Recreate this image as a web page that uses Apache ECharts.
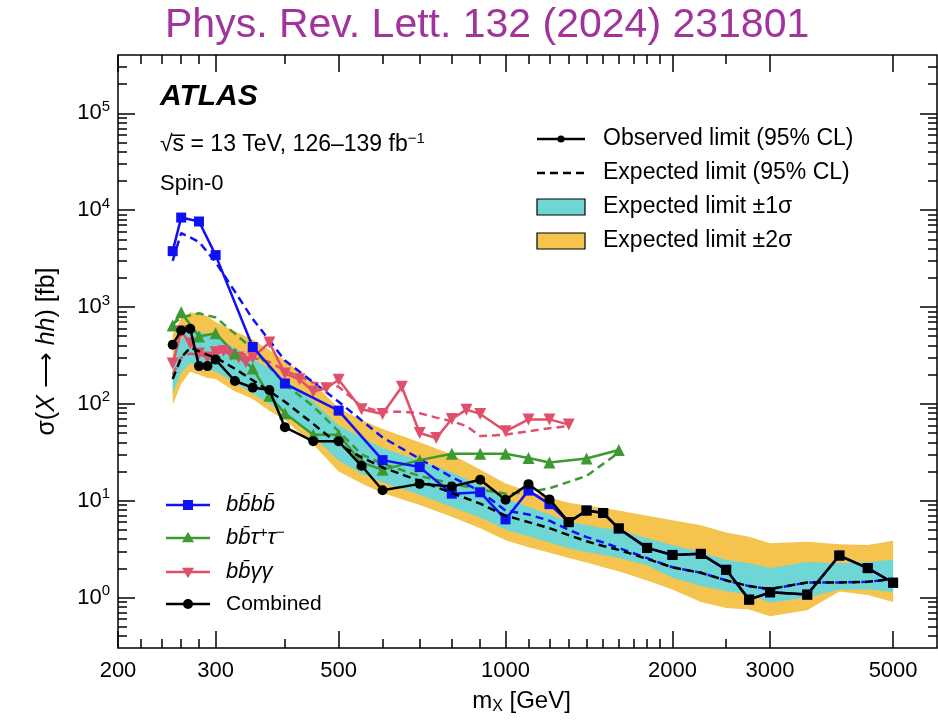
<!DOCTYPE html>
<html>
<head>
<meta charset="utf-8">
<script src="https://cdn.jsdelivr.net/npm/echarts@6/dist/echarts.min.js"></script>
<style>
  html, body { margin: 0; padding: 0; background: #ffffff; }
  #chart { width: 938px; height: 720px; }
</style>
</head>
<body>
<div id="chart"></div>
<script>
const FONT = '"Liberation Sans", Arial, Helvetica, sans-serif';

// ---- Axis ranges and tick values ----
const X_MIN = 200, X_MAX = 6000;
const Y_MIN = 0.3, Y_MAX = 4e5;
const xMajorTicks = [200, 300, 500, 1000, 2000, 3000, 5000];
const xMinorTicks = [220, 240, 260, 280, 400, 600, 700, 800, 900, 1100, 1200, 1300, 1400, 1500, 1600, 1700, 1800, 1900, 2500];
const yMajorTicks = [1, 10, 100, 1000, 10000, 100000];
const yMinorTicks = [0.4, 0.5, 0.6, 0.7, 0.8, 0.9,
  2, 3, 4, 5, 6, 7, 8, 9,
  20, 30, 40, 50, 60, 70, 80, 90,
  200, 300, 400, 500, 600, 700, 800, 900,
  2000, 3000, 4000, 5000, 6000, 7000, 8000, 9000,
  20000, 30000, 40000, 50000, 60000, 70000, 80000, 90000,
  200000, 300000];

// ---- bbbb channel: resonance mass [GeV], observed / expected limits [fb] ----
const mass4b = [251, 260, 280, 300, 350, 400, 500, 600, 700, 800, 900, 1000, 1100, 1200, 1300, 1400, 1500, 1600, 1800, 2000, 2250, 2500, 2750, 3000, 3500, 4000, 4500, 5000];
const obs4b  = [3770, 8380, 7630, 3430, 386, 162, 85, 26.2, 22.2, 11.8, 12.2, 6.4, 12.7, 9.2, 6.0, 7.9, 7.45, 5.16, 3.25, 2.75, 2.82, 1.93, 0.95, 1.13, 1.07, 2.71, 2.01, 1.42];
const exp4b  = [3000, 5800, 4700, 2900, 750, 280, 105, 45, 27, 17.5, 12.5, 7.9, 7.2, 6.2, 5.0, 4.2, 3.7, 3.25, 2.55, 2.05, 1.8, 1.5, 1.31, 1.22, 1.43, 1.43, 1.45, 1.55];

// ---- bbtautau channel ----
const massTT = [251, 260, 280, 300, 325, 350, 375, 400, 450, 500, 550, 600, 700, 800, 900, 1000, 1100, 1200, 1400, 1600];
const obsTT  = [644, 880, 495, 535, 330, 232, 121, 80, 48, 48, 24.8, 20.8, 26.2, 30.5, 30.5, 30.5, 27.6, 24.8, 27.2, 33.4];
const expTT  = [660, 780, 860, 780, 530, 370, 240, 160, 94, 52, 30, 24, 18, 15, 13, 11.8, 12.2, 13.4, 18, 31.3];

// ---- bbyy channel ----
const massYY = [251, 260, 270, 280, 290, 300, 310, 320, 330, 340, 350, 375, 400, 425, 450, 475, 500, 550, 600, 650, 700, 750, 800, 850, 900, 1000, 1100, 1200, 1300];
const obsYY  = [260, 560, 420, 330, 300, 340, 350, 320, 300, 270, 300, 430, 205, 179, 134, 145, 177, 88, 78.6, 150, 50, 44.4, 69.6, 87, 78.6, 52, 69, 69, 61];
const expYY  = [200, 300, 330, 320, 310, 330, 340, 340, 330, 320, 300, 270, 220, 190, 165, 160, 150, 94, 82, 83, 80, 72, 66, 59, 46.4, 48, 52, 56, 59];

// ---- Combination ----
const massComb = [251, 260, 270, 280, 290, 300, 325, 350, 375, 400, 450, 500, 550, 600, 700, 800, 900, 1000, 1100, 1200, 1300, 1400, 1500, 1600, 1800, 2000, 2250, 2500, 2750, 3000, 3500, 4000, 4500, 5000];
const obsComb  = [408, 572, 594, 245, 245, 286, 172, 147, 139, 57.4, 41, 41, 22.9, 12.8, 14.9, 14.0, 16.4, 10.2, 14.8, 10.3, 6.0, 7.9, 7.45, 5.16, 3.25, 2.75, 2.82, 1.93, 0.95, 1.13, 1.07, 2.71, 2.01, 1.42];
const expComb  = [180, 300, 380, 350, 320, 300, 230, 175, 135, 105, 62, 38, 28, 22, 16, 12, 9.3, 7.0, 6.0, 5.2, 4.4, 3.8, 3.4, 3.1, 2.5, 2.05, 1.8, 1.5, 1.31, 1.22, 1.43, 1.43, 1.45, 1.55];
const band1Lo  = [128, 210, 262, 245, 225, 214, 165, 128, 100, 78, 46, 26, 19, 15.5, 11.5, 8.6, 6.7, 5.0, 4.3, 3.7, 3.22, 2.95, 2.75, 2.55, 2.15, 1.6, 1.31, 1.16, 1.07, 0.88, 1.0, 1.21, 1.21, 1.14];
const band1Hi  = [300, 470, 600, 560, 520, 490, 380, 292, 230, 180, 105, 60, 45, 35, 26, 19.5, 14.5, 10.5, 8.6, 7.2, 6.0, 5.6, 5.2, 4.96, 4.1, 3.48, 2.93, 2.45, 2.26, 2.01, 2.32, 2.26, 2.32, 2.45];
const band2Lo  = [98, 160, 214, 200, 185, 180, 135, 112, 85, 68, 38, 20, 15, 12, 9, 6.8, 5.2, 3.9, 3.3, 2.9, 2.55, 2.3, 2.05, 1.86, 1.5, 1.21, 0.90, 0.78, 0.75, 0.64, 0.74, 1.15, 1.06, 0.90];
const band2Hi  = [520, 760, 880, 850, 800, 700, 560, 460, 360, 280, 165, 90, 68, 55, 40, 30, 21, 15, 12.5, 10.8, 9.5, 8.9, 8.4, 7.9, 7.0, 6.27, 5.58, 4.7, 4.24, 3.63, 3.76, 3.54, 3.48, 3.86];

// ---- Colours ----
const C_4B = '#1010f5';
const C_TT = '#3c9a30';
const C_YY = '#e0506a';
const C_COMB = '#000000';
const C_BAND1 = '#6fd6d6';
const C_BAND2 = '#f4c44f';

const pairs = (xs, ys) => xs.map((x, i) => [x, ys[i]]);

function obsLine(name, xs, ys, color, symbol, size, extra) {
  return Object.assign({
    type: 'line', name, data: pairs(xs, ys),
    symbol, symbolSize: size,
    lineStyle: { color, width: 2.5 },
    itemStyle: { color },
    showSymbol: true, animation: false, clip: true, silent: true
  }, extra || {});
}

function expLine(name, xs, ys, color, z) {
  return {
    type: 'line', name, data: pairs(xs, ys), z,
    symbol: 'none',
    lineStyle: { color, width: 2.5, type: [8, 5] },
    animation: false, clip: true, silent: true
  };
}

function band(name, lo, hi, color, z) {
  return {
    type: 'custom', name, z, clip: true, silent: true, animation: false,
    data: [[massComb[0], expComb[0]]],
    renderItem(params, api) {
      const pts = [];
      for (let i = 0; i < massComb.length; i++) pts.push(api.coord([massComb[i], hi[i]]));
      for (let i = massComb.length - 1; i >= 0; i--) pts.push(api.coord([massComb[i], lo[i]]));
      return { type: 'polygon', shape: { points: pts }, style: { fill: color } };
    }
  };
}

// ---- Axes: two overlapping axes per side give long major and short minor ticks ----
function xAxis(position, ticks, len, withLabels) {
  return {
    type: 'log', min: X_MIN, max: X_MAX, position,
    axisLine: { show: false }, splitLine: { show: false },
    axisTick: { inside: true, length: len, customValues: ticks, lineStyle: { color: '#000', width: 1.5 } },
    axisLabel: withLabels ? {
      customValues: ticks, margin: 12, color: '#000', fontSize: 22, fontFamily: FONT,
      formatter: v => String(v)
    } : { show: false }
  };
}
function yAxis(position, ticks, len, withLabels) {
  return {
    type: 'log', min: Y_MIN, max: Y_MAX, position,
    axisLine: { show: false }, splitLine: { show: false },
    axisTick: { inside: true, length: len, customValues: ticks, lineStyle: { color: '#000', width: 1.5 } },
    axisLabel: withLabels ? {
      customValues: ticks, margin: 8, color: '#000', fontFamily: FONT,
      formatter: v => '{b|10}{s|' + Math.round(Math.log10(v)) + '}',
      rich: {
        b: { fontSize: 22, fontFamily: FONT, color: '#000', lineHeight: 28, verticalAlign: 'middle' },
        s: { fontSize: 15, fontFamily: FONT, color: '#000', lineHeight: 12, verticalAlign: 'top' }
      }
    } : { show: false }
  };
}

const xAxes = [
  xAxis('bottom', xMajorTicks, 17, true),
  xAxis('bottom', xMinorTicks, 9, false),
  xAxis('top', xMajorTicks, 17, false),
  xAxis('top', xMinorTicks, 9, false)
];
Object.assign(xAxes[0], {
  name: 'm{sub|X} [GeV]', nameLocation: 'middle', nameGap: 38,
  nameTextStyle: {
    color: '#000', fontSize: 24, fontFamily: FONT, lineHeight: 28, padding: [0, 12, 0, 0],
    rich: { sub: { fontSize: 16, fontFamily: FONT, color: '#000', lineHeight: 14, verticalAlign: 'bottom' } }
  }
});
const yAxes = [
  yAxis('left', yMajorTicks, 17, true),
  yAxis('left', yMinorTicks, 9, false),
  yAxis('right', yMajorTicks, 17, false),
  yAxis('right', yMinorTicks, 9, false)
];
Object.assign(yAxes[0], {
  name: 'σ({i|X} \u27f6 {i|hh}) [fb]', nameLocation: 'middle', nameGap: 58, nameRotate: 90,
  nameTextStyle: {
    color: '#000', fontSize: 25, fontFamily: FONT,
    rich: { i: { fontSize: 25, fontFamily: FONT, color: '#000', fontStyle: 'italic' } }
  }
});

// ---- Legend and annotation graphics (pixel layout) ----
const txt = (x, y, text, size, extra) => ({
  type: 'text', x, y, silent: true,
  style: Object.assign({ text, fontSize: size, fontFamily: FONT, fill: '#000', verticalAlign: 'middle', align: 'left' }, extra || {})
});
const seg = (x1, y, x2, color, dash) => ({
  type: 'line', silent: true, shape: { x1, y1: y, x2, y2: y },
  style: { stroke: color, lineWidth: 2.5, lineDash: dash || null }
});
const tri = (cx, cy, s, color, down) => ({
  type: 'polygon', silent: true,
  shape: { points: down
    ? [[cx - s / 2, cy - s * 0.43], [cx + s / 2, cy - s * 0.43], [cx, cy + s * 0.43]]
    : [[cx - s / 2, cy + s * 0.43], [cx + s / 2, cy + s * 0.43], [cx, cy - s * 0.43]] },
  style: { fill: color }
});

const legendMain = [
  seg(537, 139, 585, '#000'),
  { type: 'circle', silent: true, shape: { cx: 561, cy: 139, r: 3.6 }, style: { fill: '#000' } },
  txt(603, 139, 'Observed limit (95% CL)', 23),
  seg(537, 173, 585, '#000', [8, 5]),
  txt(603, 173, 'Expected limit (95% CL)', 23),
  { type: 'rect', silent: true, shape: { x: 537, y: 199, width: 48, height: 16 }, style: { fill: C_BAND1, stroke: '#000', lineWidth: 1.2 } },
  txt(603, 207, 'Expected limit ±1σ', 23),
  { type: 'rect', silent: true, shape: { x: 537, y: 233, width: 48, height: 16 }, style: { fill: C_BAND2, stroke: '#000', lineWidth: 1.2 } },
  txt(603, 241, 'Expected limit ±2σ', 23)
];

const chanRich = { sup: { fontSize: 15, fontFamily: FONT, fontStyle: 'italic', fill: '#000', lineHeight: 12, verticalAlign: 'top' } };
const italic = { fontStyle: 'italic', lineHeight: 26, rich: chanRich };
const legendChannels = [
  seg(166, 505, 210, C_4B),
  { type: 'rect', silent: true, shape: { x: 183, y: 500, width: 10, height: 10 }, style: { fill: C_4B } },
  txt(226, 505, 'bb\u0304bb\u0304', 22, italic),
  seg(166, 538, 210, C_TT),
  tri(188, 537, 12, C_TT, false),
  txt(226, 538, 'bb\u0304\u03c4{sup|+}\u03c4{sup|\u2212}', 22, italic),
  seg(166, 572, 210, C_YY),
  tri(188, 573, 12, C_YY, true),
  txt(226, 572, 'bb\u0304\u03b3\u03b3', 22, italic),
  seg(166, 604, 210, C_COMB),
  { type: 'circle', silent: true, shape: { cx: 188, cy: 604, r: 5 }, style: { fill: C_COMB } },
  txt(226, 604, 'Combined', 21)
];

const annotations = [
  txt(160, 97, 'ATLAS', 30, { fontWeight: 'bold', fontStyle: 'italic' }),
  {
    type: 'text', x: 160, y: 145, silent: true,
    style: {
      text: '√s\u0305 = 13 TeV, 126–139 fb{sup|−1}', fontSize: 23, fontFamily: FONT, fill: '#000',
      verticalAlign: 'middle', align: 'left', lineHeight: 28,
      rich: { sup: { fontSize: 15, fontFamily: FONT, fill: '#000', lineHeight: 12, verticalAlign: 'top' } }
    }
  },
  txt(160, 184, 'Spin-0', 22)
];

const chart = echarts.init(document.getElementById('chart'), null, { renderer: 'canvas' });
chart.setOption({
  animation: false,
  backgroundColor: '#ffffff',
  title: {
    text: 'Phys. Rev. Lett. 132 (2024) 231801', left: 160, top: 0,
    textStyle: { color: '#a1339d', fontSize: 41, fontWeight: 'normal', fontFamily: FONT }
  },
  grid: { left: 118, right: 1, top: 55, bottom: 66, show: true, borderColor: '#000', borderWidth: 1.5, backgroundColor: 'transparent' },
  xAxis: xAxes,
  yAxis: yAxes,
  series: [
    band('Expected limit ±2σ', band2Lo, band2Hi, C_BAND2, 1),
    band('Expected limit ±1σ', band1Lo, band1Hi, C_BAND1, 2),
    expLine('bbyy expected', massYY, expYY, C_YY, 3),
    expLine('bbtautau expected', massTT, expTT, C_TT, 3),
    expLine('bbbb expected', mass4b, exp4b, C_4B, 3),
    obsLine('bbyy', massYY, obsYY, C_YY, 'triangle', 12, { symbolRotate: 180, z: 4 }),
    obsLine('bbtautau', massTT, obsTT, C_TT, 'triangle', 12, { z: 4 }),
    obsLine('bbbb', mass4b, obs4b, C_4B, 'rect', 10, { z: 5 }),
    expLine('Combined expected', massComb, expComb, C_COMB, 6),
    obsLine('Combined', massComb, obsComb, C_COMB, v => (v[0] >= 1300 ? 'rect' : 'circle'), 10, { z: 7 })
  ],
  graphic: [].concat(annotations, legendMain, legendChannels)
});
</script>
</body>
</html>
